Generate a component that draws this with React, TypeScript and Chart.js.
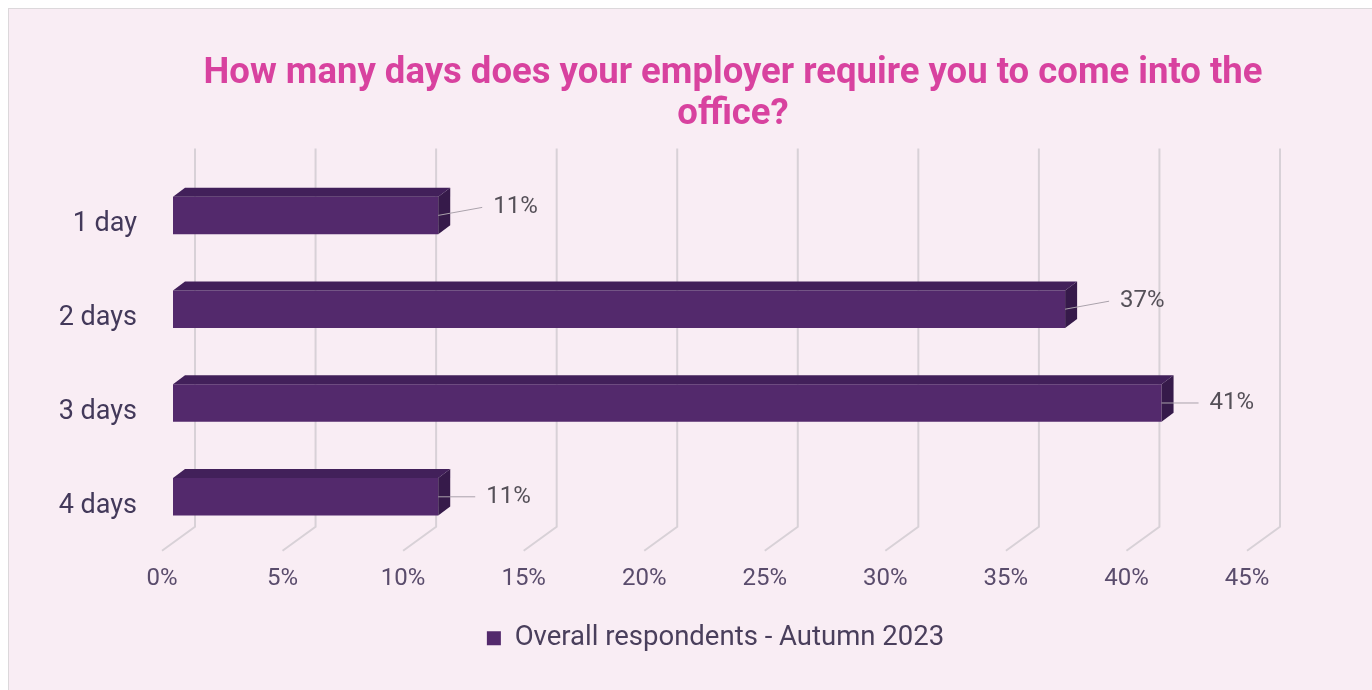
import React, { useEffect, useRef } from "react";
import { Chart, registerables } from "chart.js";

Chart.register(...registerables);

const categories = ["1 day", "2 days", "3 days", "4 days"];
const values = [11, 37, 41, 11];
const seriesName = "Overall respondents - Autumn 2023";
const titleLines = [
  "How many days does your employer require you to come into the",
  "office?",
];
const xMin = 0;
const xMax = 45;
const xStep = 5;

// label placement styles (relative to each bar end)
const labelShiftX = [55, 55, 48, 48];
const labelShiftY = [-8, -8, 0, 0];

const FRONT = "#53296c";
const TOP = "#42205a";
const SIDE = "#361a4a";
const GRID = "#d8d1d7";
const DEPTH_DX = 12;
const DEPTH_DY = -9;

const threeDPlugin = {
  id: "threeD",
  beforeDatasetsDraw(chart: any) {
    const { ctx, chartArea, scales } = chart;
    const x = scales.x;
    ctx.save();
    ctx.strokeStyle = GRID;
    ctx.lineWidth = 2;
    x.ticks.forEach((t: any) => {
      const px = x.getPixelForValue(t.value);
      ctx.beginPath();
      ctx.moveTo(px + 22, chartArea.top - 20);
      ctx.lineTo(px + 22, chartArea.bottom - 17);
      ctx.lineTo(px - 11, chartArea.bottom + 7);
      ctx.stroke();
    });
    ctx.restore();
  },
  afterDatasetsDraw(chart: any) {
    const { ctx } = chart;
    const meta = chart.getDatasetMeta(0);
    ctx.save();
    meta.data.forEach((bar: any, i: number) => {
      const { x, y, base, height } = bar.getProps(["x", "y", "base", "height"], true);
      const top = y - height / 2;
      const bottom = y + height / 2;
      // top face
      ctx.fillStyle = TOP;
      ctx.beginPath();
      ctx.moveTo(base, top);
      ctx.lineTo(base + DEPTH_DX, top + DEPTH_DY);
      ctx.lineTo(x + DEPTH_DX, top + DEPTH_DY);
      ctx.lineTo(x, top);
      ctx.closePath();
      ctx.fill();
      // side face
      ctx.fillStyle = SIDE;
      ctx.beginPath();
      ctx.moveTo(x, top);
      ctx.lineTo(x + DEPTH_DX, top + DEPTH_DY);
      ctx.lineTo(x + DEPTH_DX, bottom + DEPTH_DY);
      ctx.lineTo(x, bottom);
      ctx.closePath();
      ctx.fill();
      // leader line
      const lx = x + labelShiftX[i];
      const ly = y + labelShiftY[i];
      ctx.strokeStyle = "#aaa2ab";
      ctx.lineWidth = 1;
      ctx.beginPath();
      ctx.moveTo(x, y);
      ctx.lineTo(lx - 11, ly);
      ctx.stroke();
      // label
      ctx.fillStyle = "#555058";
      ctx.font = "24px Roboto";
      ctx.textAlign = "left";
      ctx.textBaseline = "middle";
      ctx.fillText(values[i] + "%", lx, ly);
    });
    ctx.restore();
  },
};

export default function App() {
  const ref = useRef<HTMLCanvasElement | null>(null);

  useEffect(() => {
    document.documentElement.style.overflow = "hidden";
    if (!ref.current) return;
    Chart.defaults.font.family = "Roboto";
    const chart = new Chart(ref.current, {
      type: "bar",
      data: {
        labels: categories,
        datasets: [
          {
            label: seriesName,
            data: values,
            backgroundColor: FRONT,
            borderWidth: 0,
            barPercentage: 0.4,
            categoryPercentage: 1,
          },
        ],
      },
      plugins: [threeDPlugin],
      options: {
        indexAxis: "y",
        responsive: false,
        animation: false,
        layout: { padding: { left: 0, right: 0, top: 0, bottom: 37 } },
        scales: {
          x: {
            type: "linear",
            min: xMin,
            max: xMax,
            grid: { display: false, drawTicks: false },
            border: { display: false },
            ticks: {
              stepSize: xStep,
              color: "#5a4c6c",
              font: { size: 24 },
              padding: 21,
              labelOffset: -11,
              callback: (v: any) => v + "%",
            },
          },
          y: {
            type: "category",
            grid: { display: false, drawTicks: false },
            border: { display: false },
            ticks: {
              color: "#43395a",
              font: { size: 27 },
              padding: 36,
              labelOffset: 9,
            },
            afterFit: (s: any) => {
              s.width = 164;
            },
          },
          spacer: {
            type: "linear",
            position: "right",
            display: true,
            grid: { display: false, drawTicks: false },
            border: { display: false },
            ticks: { display: false },
            afterFit: (s: any) => {
              s.width = 199;
            },
          },
        },
        plugins: {
          tooltip: { enabled: false },
          title: {
            display: true,
            text: titleLines,
            color: "#d8429f",
            fullSize: true,
            font: { size: 36.5, weight: "bold", lineHeight: 1.13 },
            padding: { top: 44, bottom: 33 },
          },
          legend: {
            display: true,
            position: "bottom",
            fullSize: false,
            labels: {
              boxWidth: 14,
              boxHeight: 14,
              color: "#4a3f5c",
              font: { size: 27.5 },
              padding: 10,
            },
          },
        },
      },
    } as any);
    return () => chart.destroy();
  }, []);

  return (
    <div
      style={{
        position: "fixed",
        left: 8,
        top: 8,
        border: "1px solid #dcd8db",
        background: "#f9edf4",
        width: 1448,
        height: 700,
      }}
    >
      <canvas ref={ref} width={1448} height={690} style={{ display: "block" }} />
    </div>
  );
}
